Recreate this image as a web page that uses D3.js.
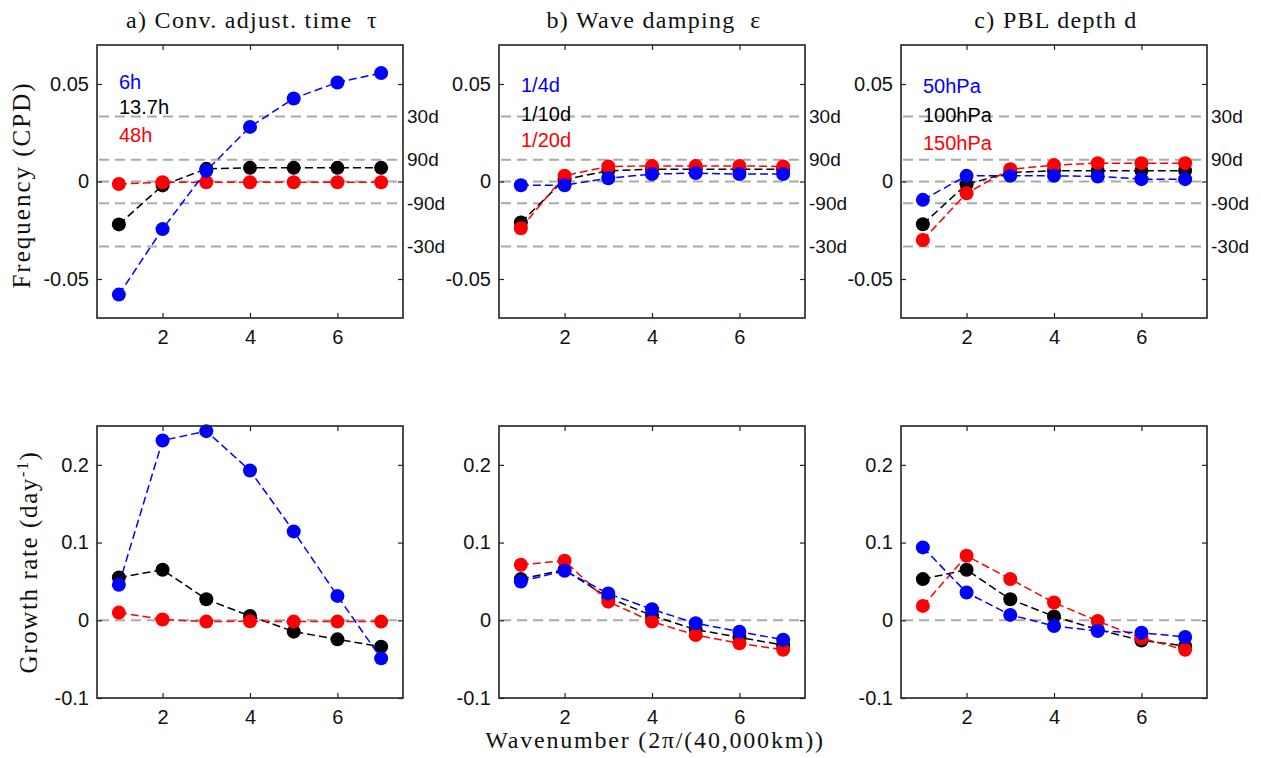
<!DOCTYPE html>
<html>
<head>
<meta charset="utf-8">
<script src="https://cdn.jsdelivr.net/npm/d3@7"></script>
<style>
  body { margin: 0; background: #fff; }
  svg { display: block; }
  text { white-space: pre; }
</style>
</head>
<body>
<svg id="fig" width="1261" height="758"></svg>
<script>
// ---- data ---------------------------------------------------------------
const wavenumber = [1, 2, 3, 4, 5, 6, 7];

// Frequency (CPD)
const freqTau6h   = [-0.058, -0.0244, 0.0055, 0.028, 0.0426, 0.0508, 0.0556];
const freqTau13h  = [-0.022, -0.002, 0.0065, 0.007, 0.007, 0.007, 0.007];
const freqTau48h  = [-0.0013, -0.0004, -0.0004, -0.0004, -0.0004, -0.0004, -0.0004];

const freqEps4d   = [-0.0019, -0.0019, 0.0017, 0.0038, 0.0043, 0.0038, 0.0038];
const freqEps10d  = [-0.021, 0.001, 0.0055, 0.0063, 0.0063, 0.0063, 0.0063];
const freqEps20d  = [-0.024, 0.003, 0.0077, 0.008, 0.008, 0.008, 0.0077];

const freqPbl50   = [-0.0094, 0.0029, 0.0029, 0.0029, 0.0026, 0.0012, 0.0012];
const freqPbl100  = [-0.0219, -0.0014, 0.0046, 0.0055, 0.0055, 0.0055, 0.0055];
const freqPbl150  = [-0.030, -0.006, 0.0063, 0.0084, 0.0094, 0.0094, 0.0094];

// Growth rate (day^-1)
const growTau6h   = [0.0456, 0.2314, 0.2434, 0.1927, 0.1144, 0.0314, -0.049];
const growTau13h  = [0.055, 0.065, 0.027, 0.0056, -0.0146, -0.0245, -0.034];
const growTau48h  = [0.0099, 0.001, -0.0017, -0.0012, -0.0017, -0.0017, -0.0017];

const growEps4d   = [0.050, 0.0637, 0.0344, 0.0142, -0.0039, -0.0146, -0.025];
const growEps10d  = [0.053, 0.065, 0.029, 0.006, -0.012, -0.022, -0.032];
const growEps20d  = [0.0714, 0.0766, 0.024, -0.0017, -0.019, -0.0297, -0.038];

const growPbl50   = [0.0938, 0.0357, 0.0069, -0.0073, -0.0138, -0.016, -0.0215];
const growPbl100  = [0.053, 0.065, 0.027, 0.005, -0.012, -0.026, -0.033];
const growPbl150  = [0.0185, 0.083, 0.053, 0.0228, -0.001, -0.023, -0.038];

// labels and ticks
const panelTitles  = ["a) Conv. adjust. time  \u03c4", "b) Wave damping  \u03b5", "c) PBL depth d"];
const legendLabels = [["6h", "13.7h", "48h"], ["1/4d", "1/10d", "1/20d"], ["50hPa", "100hPa", "150hPa"]];
const freqTicks    = [-0.05, 0, 0.05];
const growthTicks  = [-0.1, 0, 0.1, 0.2];
const xTicks       = [2, 4, 6];
const periodDays   = [30, 90, -90, -30];
const periodLabels = ["30d", "90d", "-90d", "-30d"];

// series per panel, in legend order: blue, black, red
const freqSeries   = [[freqTau6h, freqTau13h, freqTau48h],
                      [freqEps4d, freqEps10d, freqEps20d],
                      [freqPbl50, freqPbl100, freqPbl150]];
const growthSeries = [[growTau6h, growTau13h, growTau48h],
                      [growEps4d, growEps10d, growEps20d],
                      [growPbl50, growPbl100, growPbl150]];

// ---- layout -------------------------------------------------------------
const colors   = ["#0000ff", "#000000", "#ff0000"];
const drawOrder = [1, 2, 0];           // black first, then red, blue on top
const colLeft  = [97, 499, 901];
const panelW   = 306;
const rows = [
  { top: 45,  height: 273, domain: [-0.07, 0.07], ticks: freqTicks,   series: freqSeries },
  { top: 426, height: 272, domain: [-0.1, 0.25],  ticks: growthTicks, series: growthSeries }
];
const legendY = [[82, 107, 135], [85, 114, 140], [86, 115, 143]];

const SANS  = "'Liberation Sans', Arial, sans-serif";
const SERIF = "'Liberation Serif', 'Times New Roman', serif";

const svg = d3.select("#fig");
svg.append("rect").attr("width", 1261).attr("height", 758).attr("fill", "#fff");

rows.forEach((row, r) => {
  colLeft.forEach((left, c) => {
    const x = d3.scaleLinear().domain([0.5, 7.5]).range([left, left + panelW]);
    const y = d3.scaleLinear().domain(row.domain).range([row.top + row.height, row.top]);
    const g = svg.append("g");

    // grey reference lines
    const refVals = r === 0 ? [0].concat(periodDays.map(p => 1 / p)) : [0];
    g.selectAll("line.ref").data(refVals).join("line")
      .attr("x1", x(0.5) + 2).attr("x2", x(7.5) - 2)
      .attr("y1", d => y(d)).attr("y2", d => y(d))
      .attr("stroke", "#aaaaaa").attr("stroke-width", 2)
      .attr("stroke-dasharray", "10,6");

    // axes with inward ticks
    const fmt = d => String(d);
    const ax = [
      d3.axisLeft(y).tickValues(row.ticks).tickFormat(fmt).tickSizeInner(-5).tickSizeOuter(0).tickPadding(8),
      d3.axisRight(y).tickValues(row.ticks).tickFormat("").tickSizeInner(-5).tickSizeOuter(0),
      d3.axisBottom(x).tickValues(xTicks).tickFormat(fmt).tickSizeInner(-5).tickSizeOuter(0).tickPadding(12),
      d3.axisTop(x).tickValues(xTicks).tickFormat("").tickSizeInner(-5).tickSizeOuter(0)
    ];
    const trans = [
      `translate(${left},0)`, `translate(${left + panelW},0)`,
      `translate(0,${row.top + row.height})`, `translate(0,${row.top})`
    ];
    ax.forEach((a, k) => {
      const ag = g.append("g").attr("transform", trans[k]).call(a);
      ag.select(".domain").remove();
      ag.selectAll(".tick line").attr("stroke", "#222").attr("stroke-width", 1.2);
      ag.selectAll("text").attr("font-family", SANS).attr("font-size", 20).attr("fill", "#111");
    });

    // series lines and markers
    drawOrder.forEach(s => {
      const vals = row.series[c][s];
      const pts = wavenumber.map((w, i) => [w, vals[i]]);
      g.append("path")
        .attr("d", d3.line().x(d => x(d[0])).y(d => y(d[1]))(pts))
        .attr("fill", "none").attr("stroke", colors[s])
        .attr("stroke-width", 1.5).attr("stroke-dasharray", "8,4");
      g.selectAll(null).data(pts).join("circle")
        .attr("cx", d => x(d[0])).attr("cy", d => y(d[1]))
        .attr("r", 7).attr("fill", colors[s]);
    });

    // frame
    g.append("rect")
      .attr("x", left).attr("y", row.top).attr("width", panelW).attr("height", row.height)
      .attr("fill", "none").attr("stroke", "#222").attr("stroke-width", 1.6);

    if (r === 0) {
      // period labels on the right side
      g.selectAll("text.period").data(periodDays).join("text")
        .attr("x", left + panelW + 4).attr("y", d => y(1 / d))
        .attr("dominant-baseline", "central")
        .attr("font-family", SANS).attr("font-size", 19).attr("fill", "#111")
        .text((d, i) => periodLabels[i]);

      // legend
      legendLabels[c].forEach((lab, s) => {
        g.append("text")
          .attr("x", left + 22).attr("y", legendY[c][s])
          .attr("dominant-baseline", "central")
          .attr("font-family", SANS).attr("font-size", 20).attr("fill", colors[s])
          .text(lab);
      });

      // panel title
      svg.append("text")
        .attr("x", left + panelW / 2 + 2).attr("y", 28)
        .attr("text-anchor", "middle")
        .attr("font-family", SERIF).attr("font-size", 24).attr("letter-spacing", 1.3)
        .attr("fill", "#111")
        .text(panelTitles[c]);
    }
  });
});

// axis titles
svg.append("text")
  .attr("transform", "translate(30,185) rotate(-90)")
  .attr("text-anchor", "middle")
  .attr("font-family", SERIF).attr("font-size", 25).attr("letter-spacing", 2)
  .attr("fill", "#111")
  .text("Frequency (CPD)");

const gl = svg.append("text")
  .attr("transform", "translate(37,562) rotate(-90)")
  .attr("text-anchor", "middle")
  .attr("font-family", SERIF).attr("font-size", 25).attr("letter-spacing", 1.6)
  .attr("fill", "#111");
gl.append("tspan").text("Growth rate (day");
gl.append("tspan").attr("dy", -9).attr("font-size", 16).text("-1");
gl.append("tspan").attr("dy", 9).text(")");

svg.append("text")
  .attr("x", 655).attr("y", 748)
  .attr("text-anchor", "middle")
  .attr("font-family", SERIF).attr("font-size", 24).attr("letter-spacing", 1.8)
  .attr("fill", "#111")
  .text("Wavenumber (2\u03c0/(40,000km))");
</script>
</body>
</html>
